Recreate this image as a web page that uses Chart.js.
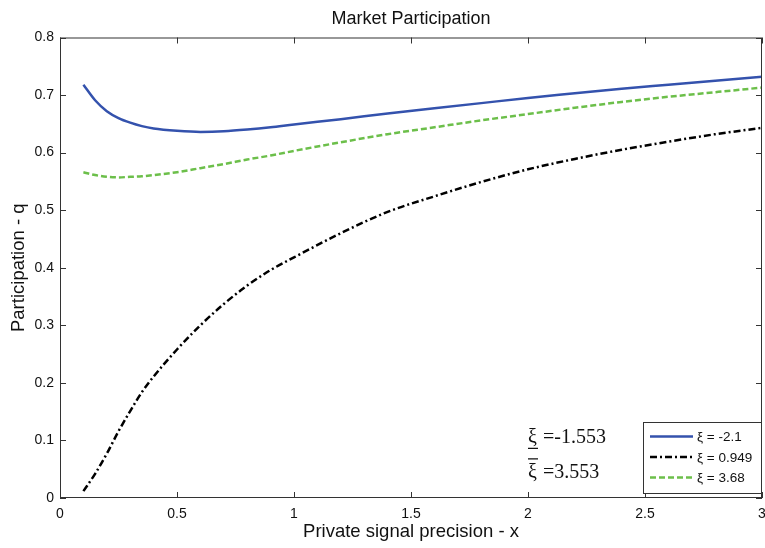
<!DOCTYPE html>
<html>
<head>
<meta charset="utf-8">
<script src="https://cdn.jsdelivr.net/npm/chart.js@4.4.1/dist/chart.umd.min.js"></script>
<style>
  html, body { margin: 0; padding: 0; background: #fff; }
  #wrap { width: 765px; height: 548px; }
</style>
</head>
<body>
<div id="wrap"><canvas id="chart" width="765" height="548"></canvas></div>
<script>
// precision grid and participation per xi value
const xValues = [0.1, 0.15, 0.2, 0.25, 0.3, 0.35, 0.4, 0.5, 0.6, 0.7, 0.8, 0.9, 1.0, 1.2, 1.4, 1.6, 1.8, 2.0, 2.2, 2.4, 2.6, 2.8, 3.0];
const qLow  = [0.718, 0.691, 0.672, 0.660, 0.652, 0.646, 0.642, 0.638, 0.636, 0.637, 0.640, 0.644, 0.649, 0.658, 0.668, 0.677, 0.686, 0.695, 0.703, 0.711, 0.718, 0.725, 0.732];
const qMid  = [0.012, 0.042, 0.077, 0.116, 0.151, 0.184, 0.211, 0.258, 0.300, 0.337, 0.369, 0.396, 0.418, 0.460, 0.497, 0.524, 0.549, 0.571, 0.589, 0.605, 0.619, 0.632, 0.643];
const qHigh = [0.566, 0.561, 0.558, 0.557, 0.558, 0.559, 0.561, 0.566, 0.573, 0.580, 0.588, 0.595, 0.603, 0.618, 0.632, 0.644, 0.656, 0.667, 0.678, 0.688, 0.697, 0.705, 0.713];
const seriesLabels = ['\u03BE = -2.1', '\u03BE = 0.949', '\u03BE = 3.68'];
const xTicks = [0, 0.5, 1, 1.5, 2, 2.5, 3];
const yTicks = [0, 0.1, 0.2, 0.3, 0.4, 0.5, 0.6, 0.7, 0.8];
const noteLow = '=-1.553';
const noteHigh = '=3.553';

const SANS = '"Liberation Sans", Arial, Helvetica, sans-serif';
const SERIF = '"Liberation Serif", "Times New Roman", serif';

const toPts = ys => ys.map((y, i) => ({ x: xValues[i], y: y }));
const fmt = v => String(Math.round(v * 10) / 10);

// matlab style box, inward ticks, legend, title, annotation
const matlabBits = {
  id: 'matlabBits',
  afterDraw(chart) {
    const { ctx, chartArea: a, scales } = chart;
    const xs = scales.x, ys = scales.y;
    ctx.save();
    // box
    ctx.strokeStyle = '#333';
    ctx.lineWidth = 1;
    ctx.strokeRect(a.left + 0.5, a.top + 0.5, a.right - a.left - 1, a.bottom - a.top - 1);
    // ticks inward, mirrored
    const tl = 6;
    ctx.beginPath();
    xTicks.forEach(v => {
      const px = Math.round(xs.getPixelForValue(v)) + 0.5;
      ctx.moveTo(px, a.bottom); ctx.lineTo(px, a.bottom - tl);
      ctx.moveTo(px, a.top); ctx.lineTo(px, a.top + tl);
    });
    yTicks.forEach(v => {
      const py = Math.round(ys.getPixelForValue(v)) + 0.5;
      ctx.moveTo(a.left, py); ctx.lineTo(a.left + tl, py);
      ctx.moveTo(a.right, py); ctx.lineTo(a.right - tl, py);
    });
    ctx.stroke();

    // title
    ctx.fillStyle = '#111';
    ctx.font = '18px ' + SANS;
    ctx.textAlign = 'center';
    ctx.textBaseline = 'alphabetic';
    ctx.fillText('Market Participation', (a.left + a.right) / 2, 23.5);

    // annotation (lower / upper xi bound)
    ctx.font = '20px ' + SERIF;
    ctx.textAlign = 'left';
    const nx = xs.getPixelForValue(2.0);
    const ny1 = ys.getPixelForValue(0.095);
    const ny2 = ys.getPixelForValue(0.035);
    ctx.fillText('\u03BE', nx, ny1);
    ctx.fillText(noteLow, nx + 15, ny1);
    ctx.fillText('\u03BE', nx, ny2);
    ctx.fillText(noteHigh, nx + 15, ny2);
    ctx.lineWidth = 1.2;
    ctx.strokeStyle = '#111';
    ctx.beginPath();
    ctx.moveTo(nx, ny1 + 5); ctx.lineTo(nx + 10, ny1 + 5);
    ctx.moveTo(nx, ny2 - 19); ctx.lineTo(nx + 10, ny2 - 19);
    ctx.stroke();

    // legend
    const lx = a.right - 119, ly = a.bottom - 76, lw = 118, lh = 71;
    ctx.fillStyle = '#fff';
    ctx.fillRect(lx, ly, lw, lh);
    ctx.strokeStyle = '#333';
    ctx.lineWidth = 1;
    ctx.strokeRect(lx + 0.5, ly + 0.5, lw, lh);
    ctx.font = '13.5px ' + SANS;
    ctx.textBaseline = 'middle';
    chart.data.datasets.forEach((ds, i) => {
      const yy = ly + 14.5 + i * 20.5;
      ctx.strokeStyle = ds.borderColor;
      ctx.lineWidth = ds.borderWidth;
      ctx.setLineDash(ds.borderDash || []);
      ctx.beginPath();
      ctx.moveTo(lx + 7, yy); ctx.lineTo(lx + 50, yy);
      ctx.stroke();
      ctx.setLineDash([]);
      ctx.fillStyle = '#111';
      ctx.fillText(ds.label, lx + 54, yy + 1);
    });
    ctx.restore();
  }
};

new Chart(document.getElementById('chart'), {
  type: 'line',
  data: {
    datasets: [
      { label: seriesLabels[0], data: toPts(qLow),  borderColor: '#3452ad', borderWidth: 2.5 },
      { label: seriesLabels[1], data: toPts(qMid),  borderColor: '#000000', borderWidth: 2.5, borderDash: [7, 3, 2, 3] },
      { label: seriesLabels[2], data: toPts(qHigh), borderColor: '#6cbf4a', borderWidth: 2.5, borderDash: [6, 3] }
    ]
  },
  options: {
    responsive: false,
    animation: false,
    layout: { padding: { top: 37.5, right: 3, left: 0, bottom: 0 } },
    elements: { point: { radius: 0 }, line: { cubicInterpolationMode: 'monotone' } },
    plugins: { legend: { display: false }, tooltip: { enabled: false } },
    scales: {
      x: {
        type: 'linear', min: 0, max: 3,
        afterBuildTicks: s => { s.ticks = xTicks.map(v => ({ value: v })); },
        afterFit: s => { s.height = 50; s.paddingLeft = 0; s.paddingRight = 0; },
        grid: { display: false, drawTicks: false },
        border: { display: false },
        ticks: { color: '#111', font: { family: SANS, size: 14 }, padding: 8, maxRotation: 0, callback: fmt },
        title: { display: true, text: 'Private signal precision - x', color: '#111',
                 font: { family: SANS, size: 18.5 }, padding: { top: 0, bottom: 5 } }
      },
      y: {
        min: 0, max: 0.8,
        afterBuildTicks: s => { s.ticks = yTicks.map(v => ({ value: v })); },
        afterFit: s => { s.width = 60; s.paddingTop = 0; s.paddingBottom = 0; },
        grid: { display: false, drawTicks: false },
        border: { display: false },
        ticks: { color: '#111', font: { family: SANS, size: 14 }, padding: 6, callback: fmt },
        title: { display: true, text: 'Participation - q', color: '#111',
                 font: { family: SANS, size: 18.5 }, padding: { top: 8, bottom: 0 } }
      }
    }
  },
  plugins: [matlabBits]
});
</script>
</body>
</html>
